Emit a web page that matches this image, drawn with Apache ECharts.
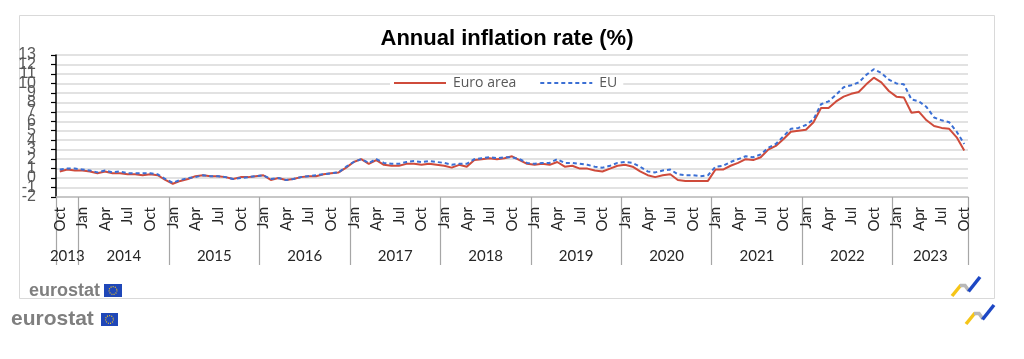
<!DOCTYPE html>
<html>
<head>
<meta charset="utf-8">
<script src="https://cdn.jsdelivr.net/npm/echarts@6/dist/echarts.min.js"></script>
<style>
html,body{margin:0;padding:0;background:#fff;}
#chart{width:1024px;height:359px;}
</style>
</head>
<body>
<div id="chart"></div>
<script>
// ---- data ----
const monthNames = ['Jan','Feb','Mar','Apr','May','Jun','Jul','Aug','Sep','Oct','Nov','Dec'];
const years = ['2013','2014','2015','2016','2017','2018','2019','2020','2021','2022','2023'];
const firstMonth = 9;   // Oct 2013
const lastMonth = 9;    // Oct 2023
const yTicks = [-2,-1,0,1,2,3,4,5,6,7,8,9,10,11,12,13];

const euroArea = [
  0.7,0.9,0.8,
  0.8,0.7,0.5,0.7,0.5,0.5,0.4,0.4,0.3,0.4,0.3,-0.2,
  -0.6,-0.3,-0.1,0.2,0.3,0.2,0.2,0.1,-0.1,0.1,0.1,0.2,
  0.3,-0.2,0.0,-0.2,-0.1,0.1,0.2,0.2,0.4,0.5,0.6,1.1,
  1.7,2.0,1.5,1.9,1.4,1.3,1.3,1.5,1.5,1.4,1.5,1.4,
  1.3,1.1,1.4,1.2,1.9,2.0,2.1,2.0,2.1,2.3,1.9,1.5,
  1.4,1.5,1.4,1.7,1.2,1.3,1.0,1.0,0.8,0.7,1.0,1.3,
  1.4,1.2,0.7,0.3,0.1,0.3,0.4,-0.2,-0.3,-0.3,-0.3,-0.3,
  0.9,0.9,1.3,1.6,2.0,1.9,2.2,3.0,3.4,4.1,4.9,5.0,
  5.1,5.9,7.4,7.4,8.1,8.6,8.9,9.1,9.9,10.6,10.1,9.2,
  8.6,8.5,6.9,7.0,6.1,5.5,5.3,5.2,4.3,2.9
];
const eu = [
  0.9,1.0,1.0,
  0.9,0.8,0.6,0.8,0.6,0.7,0.5,0.5,0.5,0.5,0.4,-0.1,
  -0.5,-0.2,0.0,0.1,0.3,0.2,0.2,0.1,-0.1,0.0,0.1,0.2,
  0.3,-0.1,0.0,-0.2,-0.1,0.1,0.2,0.3,0.4,0.5,0.6,1.2,
  1.7,2.0,1.6,2.0,1.6,1.5,1.5,1.7,1.8,1.7,1.8,1.7,
  1.6,1.4,1.5,1.5,2.0,2.1,2.2,2.1,2.2,2.2,2.0,1.6,
  1.5,1.6,1.6,2.0,1.6,1.6,1.5,1.4,1.2,1.1,1.3,1.6,
  1.7,1.6,1.2,0.7,0.6,0.8,0.9,0.4,0.3,0.3,0.2,0.3,
  1.2,1.3,1.7,2.0,2.3,2.2,2.5,3.2,3.6,4.4,5.2,5.3,
  5.6,6.2,7.8,8.1,8.8,9.6,9.8,10.1,10.9,11.5,11.1,10.4,
  10.0,9.9,8.3,8.1,7.5,6.4,6.1,5.9,4.9,3.6
];

// ---- categories built from the month/year lists ----
const categories = [];
const catYear = [];
years.forEach(function (y, yi) {
  const m0 = yi === 0 ? firstMonth : 0;
  const m1 = yi === years.length - 1 ? lastMonth : 11;
  for (let m = m0; m <= m1; m++) { categories.push(monthNames[m]); catYear.push(y); }
});
// year label position: middle of each year's run of months
const yearLabelAt = {};
years.forEach(function (y) {
  const f = catYear.indexOf(y), l = catYear.lastIndexOf(y);
  const n = l - f + 1;
  if (n % 2 === 0) yearLabelAt[f + n / 2] = '{e|' + y + '}';
  else yearLabelAt[f + (n - 1) / 2] = '{o|' + y + '}';
});

const chart = echarts.init(document.getElementById('chart'), null, {renderer: 'canvas'});
const labelFont = 'Lato, "Open Sans", sans-serif';
const yFont = '"Liberation Sans Narrow", "Liberation Sans", Arial, sans-serif';

function flag(x, y, w, h) {
  return [
    {type: 'rect', shape: {x: x, y: y, width: w, height: h}, style: {fill: '#1f47b8'}},
    {type: 'circle', shape: {cx: x + w / 2, cy: y + h / 2, r: h * 0.3},
     style: {fill: 'none', stroke: '#f3c623', lineWidth: 1.2, lineDash: [1, 1.2]}}
  ];
}
function swoosh(x, y, s) {
  return [
    {type: 'polyline', shape: {points: [[x, y + 11 * s], [x + 9 * s, y]]},
     style: {stroke: '#f5c518', lineWidth: 3.5 * s, lineCap: 'butt', fill: 'none'}},
    {type: 'polyline', shape: {points: [[x + 8 * s, y + 0.5 * s], [x + 13 * s, y + 0.5 * s], [x + 17 * s, y + 6 * s]]},
     style: {stroke: '#b8b8b8', lineWidth: 3.5 * s, fill: 'none'}},
    {type: 'polyline', shape: {points: [[x + 16.5 * s, y + 6.5 * s], [x + 28 * s, y - 8 * s]]},
     style: {stroke: '#1d47c4', lineWidth: 3.5 * s, lineCap: 'butt', fill: 'none'}}
  ];
}

const graphics = [
  {type: 'rect', shape: {x: 19.5, y: 15.5, width: 975, height: 283},
   style: {fill: 'none', stroke: '#d9d9d9', lineWidth: 1}, z: -1},
  {type: 'text', x: 29, y: 282, style: {text: 'eurostat', fill: '#7f7f7f',
    font: 'bold 18px "Liberation Sans", Arial, sans-serif'}},
  {type: 'text', x: 11, y: 309, style: {text: 'eurostat', fill: '#7f7f7f',
    font: 'bold 21px "Liberation Sans", Arial, sans-serif'}}
].concat(flag(104, 284, 18, 13), flag(101, 313, 17, 13), swoosh(952, 285, 1), swoosh(966, 313, 1));

function isEven(v) { return ((v % 2) + 2) % 2 === 0; }
function yAxisDef(showEven, main) {
  return {
    type: 'value', min: yTicks[0], max: yTicks[yTicks.length - 1], interval: 1,
    position: 'left', offset: 0,
    axisLine: {show: main, onZero: false, lineStyle: {color: '#000', width: 1.5}},
    axisTick: {show: main, length: 5, lineStyle: {color: '#000', width: 1.2}},
    axisLabel: {margin: 20, showMinLabel: true, showMaxLabel: true,
      formatter: function (v) { return isEven(v) === showEven ? String(v) : ''; },
      fontFamily: yFont, fontSize: 16, color: '#595959'},
    splitLine: {show: main, lineStyle: {color: '#d9d9d9', width: 1.5}}
  };
}

const legendFont = '"Open Sans", Lato, sans-serif';
const option = {
  animation: false,
  backgroundColor: '#ffffff',
  title: {
    text: 'Annual inflation rate (%)',
    left: 502, top: 23, textAlign: 'center',
    textStyle: {fontFamily: '"Liberation Sans", Arial, sans-serif', fontWeight: 'bold', fontSize: 22, color: '#000'}
  },
  legend: {
    left: 390, top: 75,
    padding: [1, 6, 1, 4],
    backgroundColor: '#ffffff',
    itemWidth: 52, itemHeight: 10, itemGap: 24,
    textStyle: {fontFamily: legendFont, fontSize: 14, color: '#595959', padding: [0, 0, 0, 2]},
    data: [
      {name: 'Euro area', icon: 'path://M0,0 L52,0 L52,2 L0,2 Z'},
      {name: 'EU', icon: 'path://M0,0 L4,0 L4,2 L0,2 Z M7,0 L11,0 L11,2 L7,2 Z M14,0 L18,0 L18,2 L14,2 Z M21,0 L25,0 L25,2 L21,2 Z M28,0 L32,0 L32,2 L28,2 Z M35,0 L39,0 L39,2 L35,2 Z M42,0 L46,0 L46,2 L42,2 Z M49,0 L52,0 L52,2 L49,2 Z'}
    ]
  },
  grid: {left: 56, right: 56, top: 55, bottom: 162, containLabel: false},
  xAxis: [{
    type: 'category', data: categories, boundaryGap: true,
    axisLine: {onZero: false, lineStyle: {color: '#bfbfbf', width: 1.5}},
    axisTick: {show: true, length: 68, interval: function (i) {
      return i === 0 || categories[i] === 'Jan';
    }, lineStyle: {color: '#a6a6a6', width: 1.2}},
    axisLabel: {
      rotate: 90, margin: 10,
      interval: function (i) { return i % 3 === 0; },
      fontFamily: labelFont, fontSize: 15, color: '#262626'
    },
    splitLine: {show: false}
  }, {
    type: 'category', data: categories, boundaryGap: true, position: 'bottom',
    axisLine: {show: false, onZero: false}, axisTick: {show: false}, splitLine: {show: false},
    axisLabel: {
      interval: 0, margin: 52,
      formatter: function (v, i) { return yearLabelAt[i] || ''; },
      fontFamily: labelFont, fontSize: 15, color: '#262626',
      rich: {
        e: {fontFamily: labelFont, fontSize: 15, color: '#262626', padding: [0, 7.5, 0, 0]},
        o: {fontFamily: labelFont, fontSize: 15, color: '#262626'}
      }
    }
  }],
  yAxis: [yAxisDef(true, true), yAxisDef(false, false)],
  series: [{
    name: 'Euro area', type: 'line', data: euroArea, xAxisIndex: 0, yAxisIndex: 0,
    symbol: 'none', lineStyle: {color: '#cf4b3b', width: 2}, itemStyle: {color: '#cf4b3b'}
  }, {
    name: 'EU', type: 'line', data: eu, xAxisIndex: 0, yAxisIndex: 0,
    symbol: 'none', lineStyle: {color: '#3b6fd4', width: 2, type: [4, 3]}, itemStyle: {color: '#3b6fd4'}
  }],
  graphic: graphics
};
chart.setOption(option);
</script>
</body>
</html>
